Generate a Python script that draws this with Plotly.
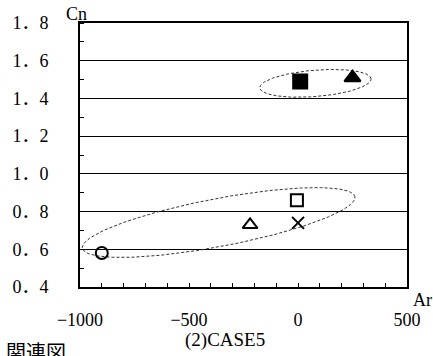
import numpy as np
import plotly.graph_objects as go

# ---- data ----
series_names = ["open circle", "open triangle", "cross", "open square", "filled square", "filled triangle"]
ar_values = [-900, -220, 0, -5, 10, 250]
cn_values = [0.58, 0.73, 0.74, 0.86, 1.49, 1.51]
symbols = ["circle-open", "triangle-up-open", "x-thin-open", "square-open", "square", "triangle-up"]
sizes = [12, 13, 12, 12, 14, 14]

y_ticks = [0.4, 0.6, 0.8, 1.0, 1.2, 1.4, 1.6, 1.8]
y_ticktext = ["0．4", "0．6", "0．8", "1．0", "1．2", "1．4", "1．6", "1．8"]
x_ticks = [-1000, -500, 0, 500]
x_ticktext = ["−1000", "−500", "0", "500"]

# ellipse groupings: center (Ar, Cn), semi-axes in Ar-equivalent units, tilt (deg)
ell_centers_ar = [-364, 80]
ell_centers_cn = [0.742, 1.480]
ell_a = [636, 256]
ell_b = [109, 60]
ell_angle = [10.6, 4.6]

# aspect factor between Cn and Ar on screen (px per Ar / px per Cn)
K = (330 / 1500) / (264 / 1.4)

fig = go.Figure()

t = np.linspace(0, 2 * np.pi, 200)
for cx, cy, a, b, ang in zip(ell_centers_ar, ell_centers_cn, ell_a, ell_b, ell_angle):
    th = np.deg2rad(ang)
    u = cx + a * np.cos(t) * np.cos(th) - b * np.sin(t) * np.sin(th)
    v = cy / K + a * np.cos(t) * np.sin(th) + b * np.sin(t) * np.cos(th)
    fig.add_trace(go.Scatter(x=u, y=v * K, mode="lines",
                             line=dict(color="#333333", width=1, dash="3px,2px"),
                             hoverinfo="skip", showlegend=False))

for name, xv, yv, sym, sz in zip(series_names, ar_values, cn_values, symbols, sizes):
    fig.add_trace(go.Scatter(x=[xv], y=[yv], mode="markers", name=name,
                             marker=dict(symbol=sym, size=sz, color="black",
                                         line=dict(color="black", width=2)),
                             showlegend=False))

font = dict(family="Liberation Serif, Noto Sans CJK JP", size=18, color="black")

fig.update_layout(
    width=433, height=356,
    margin=dict(l=77, r=26, t=23, b=69),
    paper_bgcolor="white", plot_bgcolor="white",
    font=font,
    xaxis=dict(range=[-1000, 500], tickmode="array", tickvals=x_ticks, ticktext=x_ticktext,
               ticks="inside", ticklen=4, tickwidth=1, tickcolor="black",
               minor=dict(tickmode="linear", tick0=-1000, dtick=100, ticks="inside",
                          ticklen=4, tickcolor="black", showgrid=False),
               showgrid=False, zeroline=False, showline=True, linecolor="black",
               linewidth=2, mirror=True, ticklabelstandoff=15, tickfont=font),
    yaxis=dict(range=[0.4, 1.8], tickmode="array", tickvals=y_ticks, ticktext=y_ticktext,
               ticks="", showgrid=True, gridcolor="black", gridwidth=1,
               minor=dict(tickmode="linear", tick0=0.4, dtick=0.1, ticks="inside",
                          ticklen=4, tickcolor="black", showgrid=False),
               zeroline=False, showline=True, linecolor="black", linewidth=2,
               mirror=True, ticklabelstandoff=26, tickfont=font),
    annotations=[
        dict(text="Cn", x=-0.0106, y=1.034, xref="paper", yref="paper",
             xanchor="center", yanchor="middle", showarrow=False, font=font),
        dict(text="Ar", x=1.047, y=-0.049, xref="paper", yref="paper",
             xanchor="center", yanchor="middle", showarrow=False, font=font),
        dict(text="(2)CASE5", x=0.444, y=-0.2, xref="paper", yref="paper",
             xanchor="center", yanchor="middle", showarrow=False,
             font=dict(family="Liberation Serif", size=19, color="black")),
        dict(text="関連図", x=-0.2333, y=-0.243, xref="paper", yref="paper",
             xanchor="left", yanchor="middle", showarrow=False,
             font=dict(family="Noto Sans CJK JP", size=20, color="black")),
    ],
)

fig.write_html("out.html")
